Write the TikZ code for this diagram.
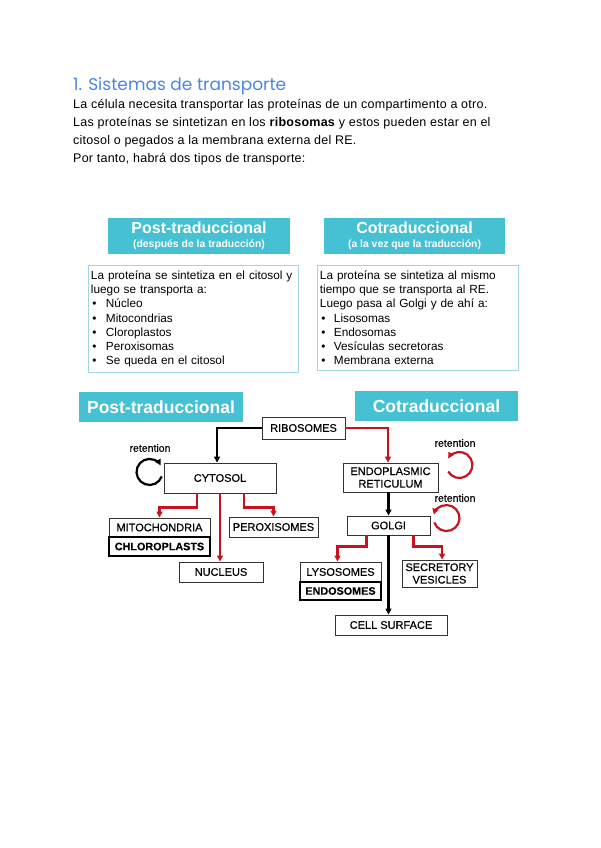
\documentclass[tikz,border=0pt]{standalone}
\usepackage{fontspec}
\setmainfont{Liberation Sans}
\newfontfamily\titlefont{Poppins}
\newfontfamily\bodyfont[LetterSpace=2]{Liberation Sans}
\newfontfamily\labfont[FakeBold=0.4]{Liberation Sans}
\usetikzlibrary{arrows.meta}

\definecolor{titleblue}{RGB}{74,134,232}
\definecolor{hdrcyan}{RGB}{69,193,211}
\definecolor{listblue}{RGB}{160,212,230}
\definecolor{pathred}{RGB}{200,18,30}

\newcommand{\itm}{\makebox[15pt][l]{\hspace{1.5pt}\textbullet}}
\newcommand{\itmr}{\makebox[14pt][l]{\hspace{1.5pt}\textbullet}}

\tikzset{
  body/.style={anchor=base west, inner sep=0pt, font=\bodyfont\fontsize{12.5}{14}\selectfont},
  hdr/.style={fill=hdrcyan, text=white, inner sep=0pt, align=center, font=\bfseries},
  listbox/.style={draw=listblue, line width=0.9pt, anchor=north west, align=left,
    inner xsep=2.5pt, inner ysep=5pt, font=\fontsize{11.8}{14.3}\selectfont},
  cell/.style={draw=black!80, line width=0.9pt, inner sep=0pt, align=center,
    font=\labfont\fontsize{11}{12.5}\selectfont},
  boldcell/.style={cell, draw=black, line width=1.9pt,
    font=\labfont\bfseries\fontsize{10.8}{12}\selectfont},
  blk/.style={line width=2.2pt, -{Triangle[length=6pt,width=6pt]}},
  redline/.style={blk, draw=pathred},
  tag/.style={inner sep=0pt, font=\labfont\fontsize{10.5}{11}\selectfont},
}

\begin{document}
\begin{tikzpicture}[x=1pt, y=1pt]
  \useasboundingbox (0,0) rectangle (600,-848);

  % Title and text
  \node[anchor=base west, inner sep=0pt, text=titleblue,
    font=\titlefont\fontsize{17}{20}\selectfont] (title) at (73,-91) {1. Sistemas de transporte};
  \node[body] (intro1) at (73,-109) {La célula necesita transportar las proteínas de un compartimento a otro.};
  \node[body] (intro2) at (73,-127) {Las proteínas se sintetizan en los \textbf{ribosomas} y estos pueden estar en el};
  \node[body] (intro3) at (73,-144) {citosol o pegados a la membrana externa del RE.};
  \node[body] (intro4) at (73,-162) {Por tanto, habrá dos tipos de transporte:};

  % Summary headers
  \node[hdr, minimum width=182pt, minimum height=36pt] (posthdr) at (199,-235.5)
    {\fontsize{16}{17}\selectfont Post-traduccional\\[2pt]
     \fontsize{10.4}{12}\selectfont (después de la traducción)};
  \node[hdr, minimum width=181pt, minimum height=36pt] (cohdr) at (414.5,-235.5)
    {\fontsize{16}{17}\selectfont Cotraduccional\\[2pt]
     \fontsize{10.4}{12}\selectfont (a la vez que la traducción)};

  % Summary lists
  \node[listbox, text width=205pt] (postlist) at (88,-265)
    {La proteína se sintetiza en el citosol y\\
     luego se transporta a:\\
     \itm Núcleo\\
     \itm Mitocondrias\\
     \itm Cloroplastos\\
     \itm Peroxisomas\\
     \itm Se queda en el citosol};
  \node[listbox, text width=196pt] (colist) at (317,-265)
    {La proteína se sintetiza al mismo\\
     tiempo que se transporta al RE.\\
     Luego pasa al Golgi y de ahí a:\\
     \itmr Lisosomas\\
     \itmr Endosomas\\
     \itmr Vesículas secretoras\\
     \itmr Membrana externa};

  % Diagram headers
  \node[hdr, minimum width=164pt, minimum height=30pt,
    font=\bfseries\fontsize{17.5}{20}\selectfont] (posttag) at (161,-407) {Post-traduccional};
  \node[hdr, minimum width=163pt, minimum height=30pt,
    font=\bfseries\fontsize{17.5}{20}\selectfont] (cotag) at (436.5,-406) {Cotraduccional};

  % Compartments
  \node[cell, minimum width=83pt, minimum height=22pt] (ribo) at (303.5,-428) {RIBOSOMES};
  \node[cell, minimum width=112pt, minimum height=30pt] (cyto) at (220,-478) {CYTOSOL};
  \node[cell, minimum width=101pt, minimum height=19pt] (mito) at (159.5,-527.5) {MITOCHONDRIA};
  \node[boldcell, minimum width=101pt, minimum height=19pt] (chloro) at (159.5,-546.5) {CHLOROPLASTS};
  \node[cell, minimum width=89pt, minimum height=20pt] (perox) at (273.5,-527) {PEROXISOMES};
  \node[cell, minimum width=84pt, minimum height=20pt] (nucl) at (221,-572) {NUCLEUS};
  \node[cell, minimum width=95pt, minimum height=29pt] (er) at (390.5,-477.5) {ENDOPLASMIC\\RETICULUM};
  \node[cell, minimum width=83pt, minimum height=19pt] (golgi) at (388.5,-525.5) {GOLGI};
  \node[cell, minimum width=81pt, minimum height=20pt] (lyso) at (340.5,-572) {LYSOSOMES};
  \node[boldcell, minimum width=81pt, minimum height=18pt] (endo) at (340.5,-591) {ENDOSOMES};
  \node[cell, minimum width=75pt, minimum height=27pt] (secr) at (439.5,-573.5) {SECRETORY\\VESICLES};
  \node[cell, minimum width=112pt, minimum height=20pt] (cell) at (391,-625) {CELL SURFACE};

  % retention labels
  \node[tag] (retcyto) at (150,-448) {retention};
  \node[tag] (reter) at (455,-443) {retention};
  \node[tag] (retgolgi) at (455,-498) {retention};

  % Post-translational routes
  \draw[blk] (ribo.west) -| ([xshift=-3]cyto.north);
  \draw[redline] ([xshift=-23]cyto.south) -- ++(0,-14) -| (mito.north);
  \draw[redline] (cyto.south) -- (cyto.south |- nucl.north);
  \draw[redline] ([xshift=24]cyto.south) -- ++(0,-14) -| (perox.north);
  \draw[blk] ([shift={(-1.8,1.6)}]cyto.west) arc[start angle=-20, end angle=-330, radius=13];

  % Co-translational routes
  \draw[redline] (ribo.east) -| ([xshift=-2.5]er.north);
  \draw[blk] (golgi.north |- er.south) -- (golgi.north);
  \draw[redline] ([xshift=-22]golgi.south) -- ++(0,-11) -| ([xshift=-3]lyso.north);
  \draw[redline] ([xshift=25]golgi.south) -- ++(0,-11) -| ([xshift=2.5]secr.north);
  \draw[blk] (golgi.south) -- (golgi.south |- cell.north);
  \draw[redline] ([shift={(9.7,6)}]er.east) arc[start angle=210, end angle=510, radius=13];
  \draw[redline] ([shift={(3.8,3)}]golgi.east) arc[start angle=200, end angle=525, radius=13];

\end{tikzpicture}
\end{document}
